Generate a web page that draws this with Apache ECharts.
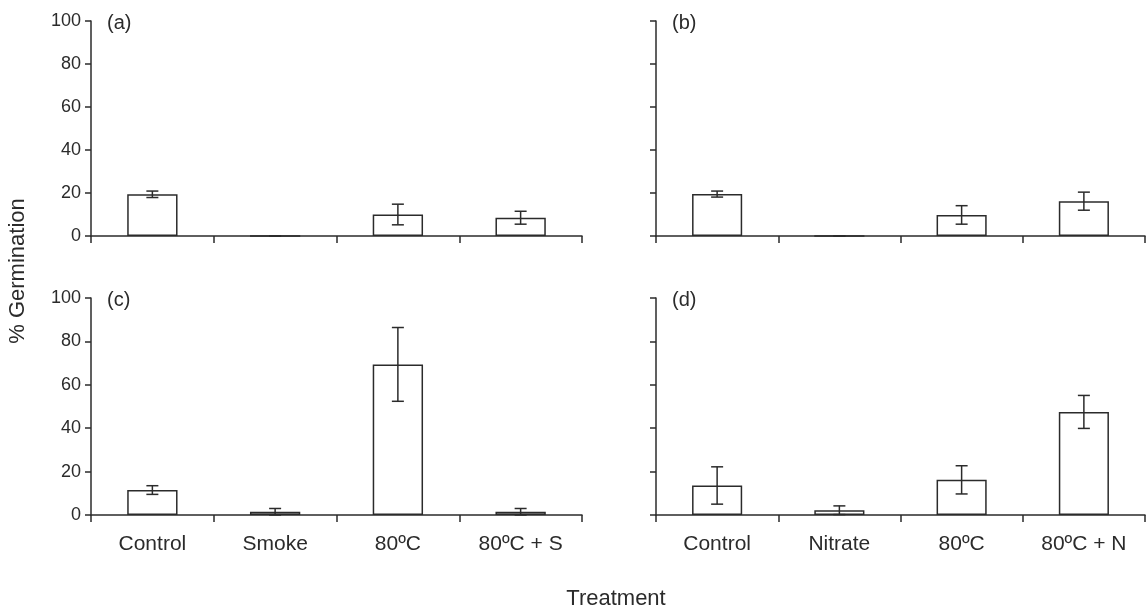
<!DOCTYPE html>
<html>
<head>
<meta charset="utf-8">
<script src="https://cdn.jsdelivr.net/npm/echarts@6/dist/echarts.min.js"></script>
<style>
  html, body { margin: 0; padding: 0; background: #fff; }
  #chart { width: 1147px; height: 608px; }
</style>
</head>
<body>
<div id="chart"></div>
<script>
const smokeCats = ['Control', 'Smoke', '80ºC', '80ºC + S'];
const nitrateCats = ['Control', 'Nitrate', '80ºC', '80ºC + N'];
const yTicks = [0, 20, 40, 60, 80, 100];

// mean % germination and error (± SE) per panel
const meanA = [19.4, 0, 10, 8.5];
const errA = [1.5, 0, 4.8, 3];
const meanB = [19.5, 0, 9.8, 16.2];
const errB = [1.4, 0, 4.3, 4.2];
const meanC = [11.5, 1.5, 69.4, 1.5];
const errC = [2, 1.5, 17, 1.5];
const meanD = [13.6, 2.2, 16.2, 47.5];
const errD = [8.6, 2, 6.5, 7.6];

const panelLabels = ['(a)', '(b)', '(c)', '(d)'];

const ink = '#2b2b2b';
const font = "'Liberation Sans', Arial, sans-serif";

const chart = echarts.init(document.getElementById('chart'));

const grids = [
    { left: 91, top: 21, width: 491, height: 215 },
    { left: 656, top: 21, width: 489, height: 215 },
    { left: 91, top: 298, width: 491, height: 217 },
    { left: 656, top: 298, width: 489, height: 217 }
];

const panels = [
    { cats: smokeCats, mean: meanA, err: errA, showX: false, showY: true },
    { cats: nitrateCats, mean: meanB, err: errB, showX: false, showY: false },
    { cats: smokeCats, mean: meanC, err: errC, showX: true, showY: true },
    { cats: nitrateCats, mean: meanD, err: errD, showX: true, showY: false }
];

const xAxes = panels.map((p, i) => ({
    type: 'category',
    gridIndex: i,
    data: p.cats,
    axisLine: { lineStyle: { color: ink, width: 1.5 } },
    axisTick: { show: true, inside: false, length: 7, lineStyle: { color: ink, width: 1.5 } },
    axisLabel: {
        show: p.showX,
        margin: 19,
        color: ink,
        fontSize: 21,
        fontFamily: font
    }
}));

const yAxes = panels.map((p, i) => ({
    type: 'value',
    gridIndex: i,
    min: yTicks[0],
    max: yTicks[yTicks.length - 1],
    interval: 20,
    splitLine: { show: false },
    axisLine: { show: true, lineStyle: { color: ink, width: 1.5 } },
    axisTick: { show: true, length: 6, lineStyle: { color: ink, width: 1.5 } },
    axisLabel: {
        show: p.showY,
        margin: 10,
        color: ink,
        fontSize: 18,
        fontFamily: font
    }
}));

const errorBar = (params, api) => {
    const x = api.value(0);
    const lo = api.coord([x, api.value(1)]);
    const hi = api.coord([x, api.value(2)]);
    const cap = 6;
    const style = { stroke: ink, lineWidth: 1.5 };
    return {
        type: 'group',
        children: [
            { type: 'line', shape: { x1: lo[0], y1: lo[1], x2: hi[0], y2: hi[1] }, style },
            { type: 'line', shape: { x1: lo[0] - cap, y1: lo[1], x2: lo[0] + cap, y2: lo[1] }, style },
            { type: 'line', shape: { x1: hi[0] - cap, y1: hi[1], x2: hi[0] + cap, y2: hi[1] }, style }
        ]
    };
};

const series = [];
panels.forEach((p, i) => {
    series.push({
        type: 'bar',
        xAxisIndex: i,
        yAxisIndex: i,
        data: p.mean,
        barWidth: '41%',
        itemStyle: { color: '#fff', borderColor: ink, borderWidth: 1.5 },
        emphasis: { disabled: true }
    });
    series.push({
        type: 'custom',
        xAxisIndex: i,
        yAxisIndex: i,
        renderItem: errorBar,
        encode: { x: 0, y: [1, 2] },
        data: p.mean.map((m, j) => [j, Math.max(0, m - p.err[j]), m + p.err[j]]),
        z: 5
    });
});

const labelTexts = panelLabels.map((t, i) => ({
    type: 'text',
    x: grids[i].left + 16,
    y: grids[i].top + 2,
    style: {
        text: t,
        fill: ink,
        font: '20px ' + font,
        textAlign: 'left',
        textVerticalAlign: 'middle'
    }
}));

chart.setOption({
    animation: false,
    grid: grids,
    xAxis: xAxes,
    yAxis: yAxes,
    series: series,
    graphic: labelTexts.concat([
        {
            type: 'text',
            x: 18,
            y: 271,
            rotation: Math.PI / 2,
            style: {
                text: '% Germination',
                fill: ink,
                font: '22px ' + font,
                textAlign: 'center',
                textVerticalAlign: 'middle'
            }
        },
        {
            type: 'text',
            x: 616,
            y: 599,
            style: {
                text: 'Treatment',
                fill: ink,
                font: '22px ' + font,
                textAlign: 'center',
                textVerticalAlign: 'middle'
            }
        }
    ])
});
</script>
</body>
</html>
